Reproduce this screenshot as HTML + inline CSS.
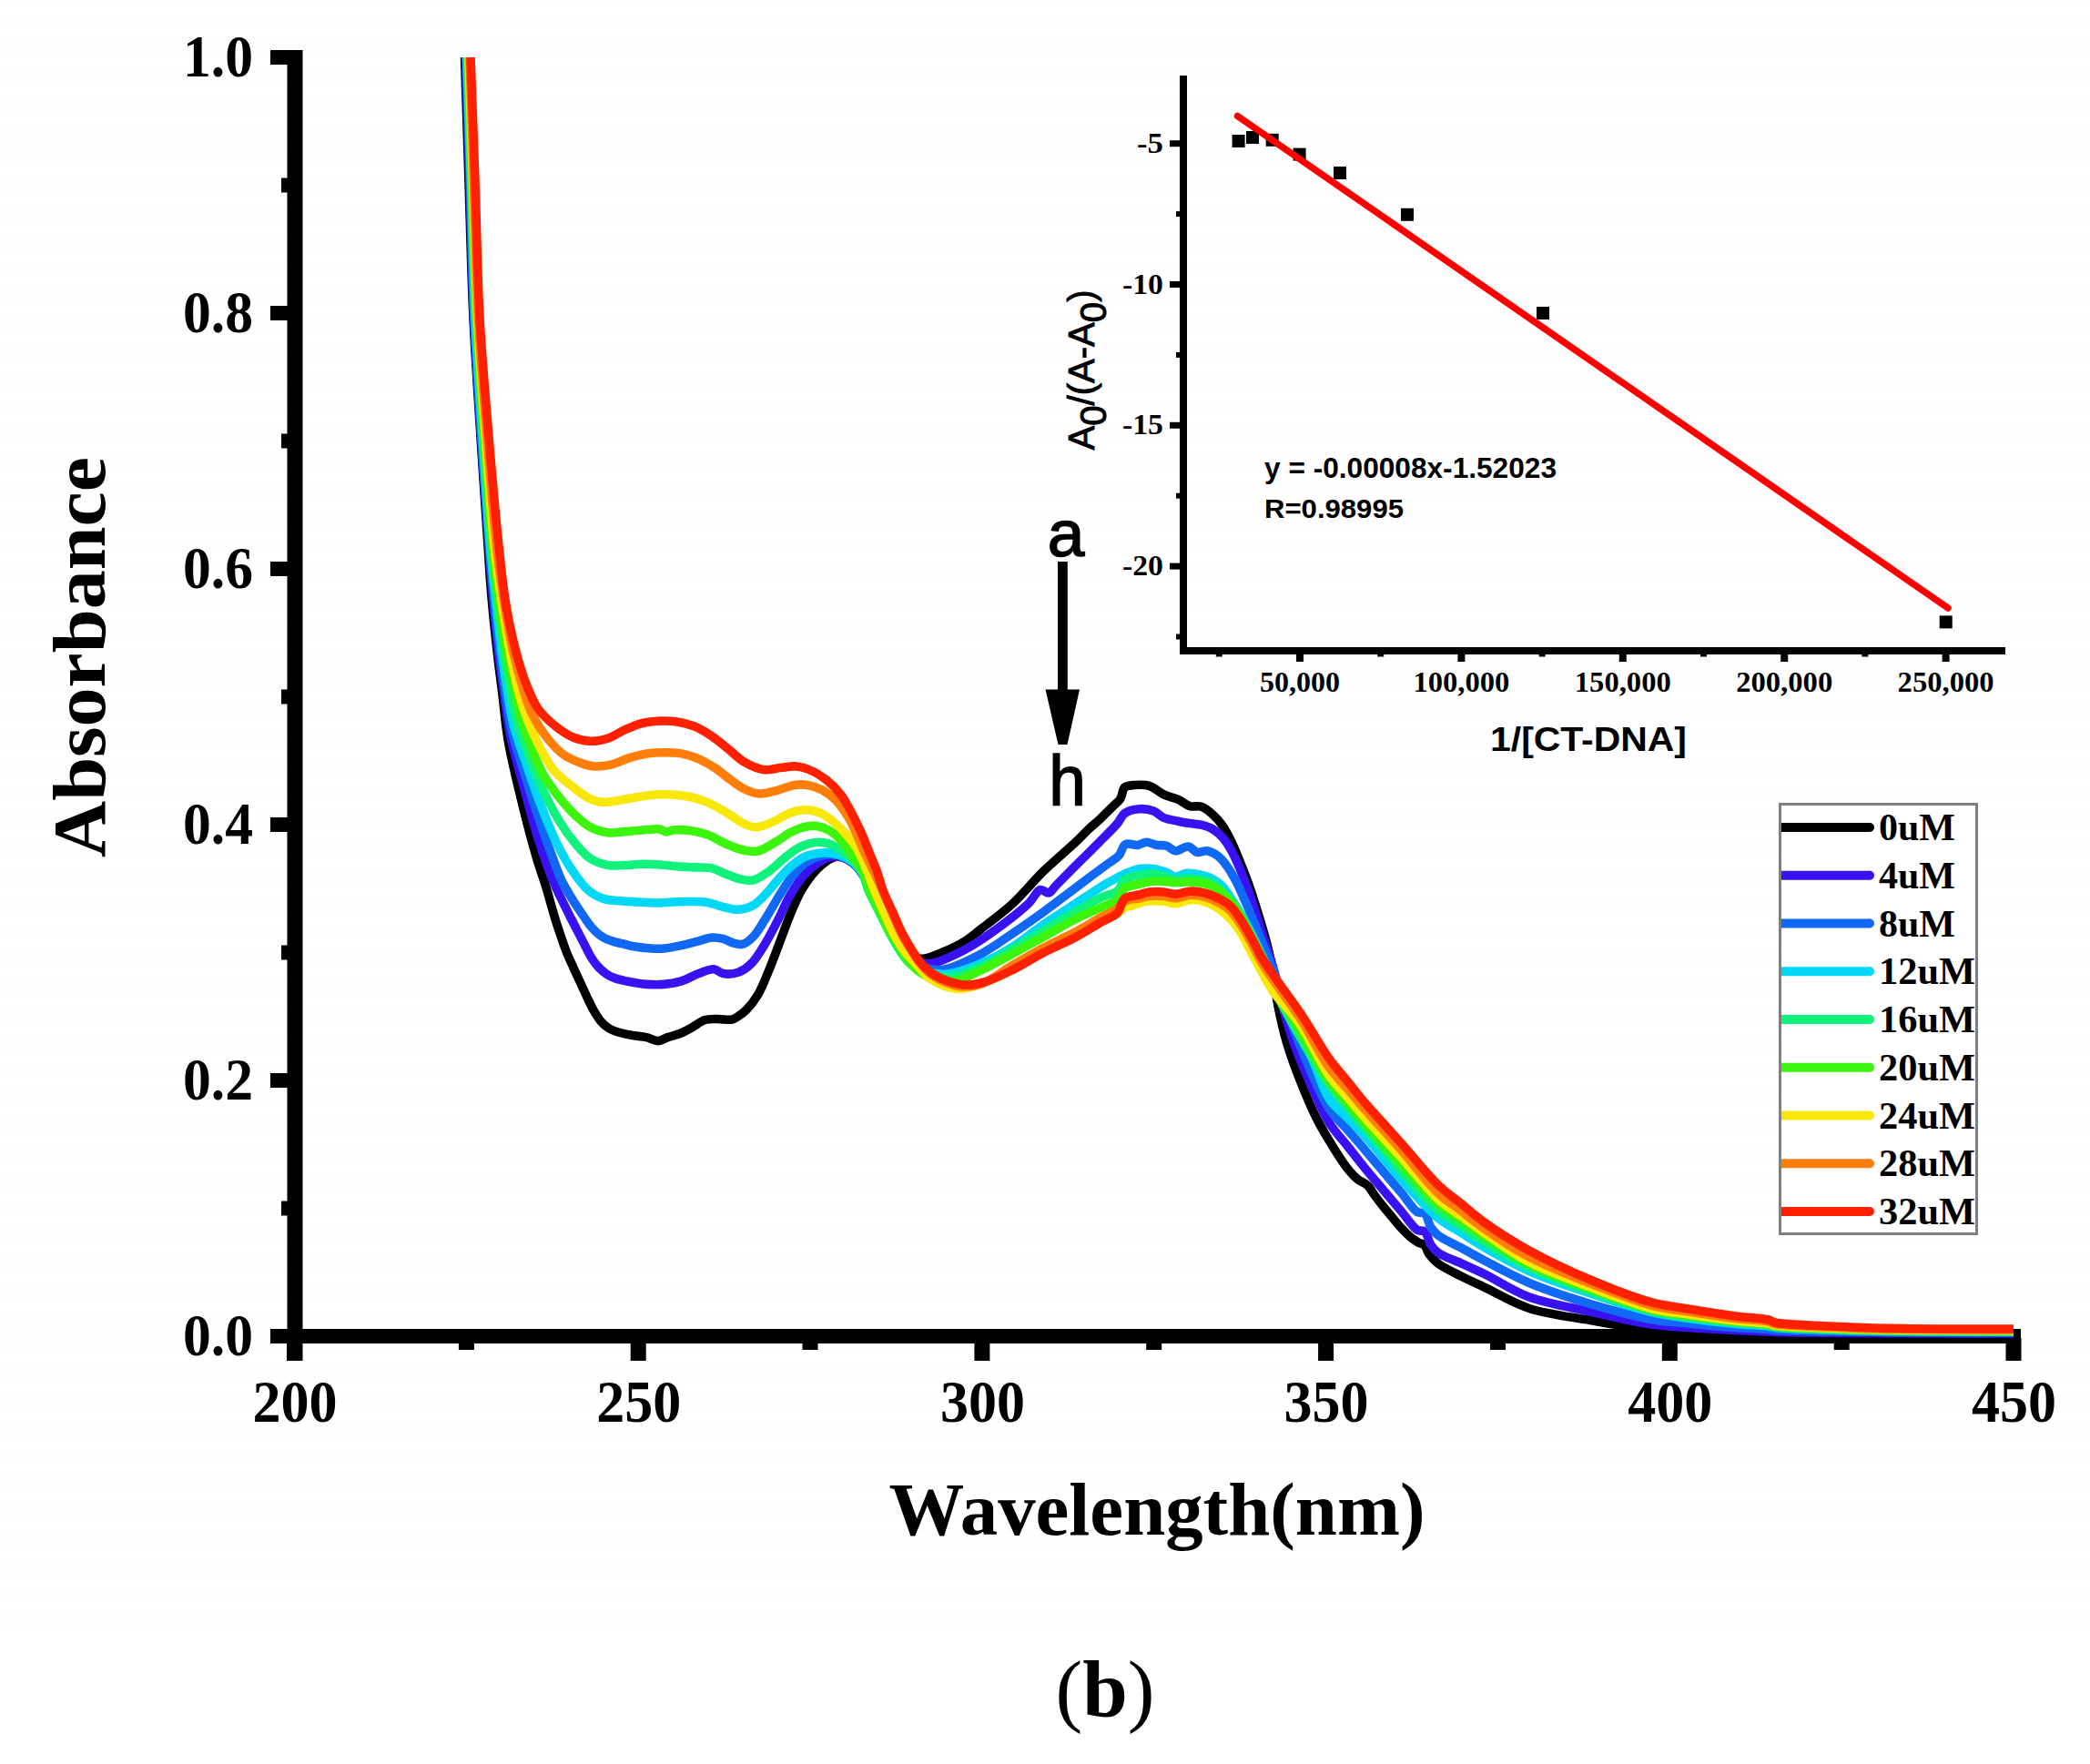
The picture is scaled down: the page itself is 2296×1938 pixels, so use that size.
<!DOCTYPE html>
<html lang="en"><head><meta charset="utf-8"><title>Absorbance spectra (b)</title>
<style>html,body{margin:0;padding:0;background:#fff}svg{display:block}text{font-family:'Liberation Serif','Times New Roman',serif;fill:#000}.sb{font-weight:bold}.sans{font-family:'Liberation Sans',Arial,sans-serif}.b{font-weight:bold}</style>
</head><body>
<svg width="2296" height="1938" viewBox="0 0 2296 1938">
<defs>
<pattern id="dots" width="8" height="32.6" patternUnits="userSpaceOnUse" patternTransform="translate(0 7.4)"><rect x="2" y="0" width="1" height="1" fill="#ececec"/><rect x="5" y="10.9" width="1" height="1" fill="#ececec"/><rect x="0" y="21.7" width="1" height="1" fill="#ececec"/></pattern>
<clipPath id="plot"><rect x="300" y="63" width="1912" height="1420"/></clipPath>
</defs>
<rect width="2296" height="1938" fill="#ffffff"/>
<rect width="2296" height="1792" fill="url(#dots)"/>
<g fill="#000">
<rect x="315.5" y="55" width="17" height="1440"/>
<rect x="297" y="1460" width="1923" height="16"/>
<rect x="297" y="1460.0" width="20" height="16"/>
<rect x="297" y="1179.0" width="20" height="16"/>
<rect x="297" y="898.0" width="20" height="16"/>
<rect x="297" y="617.0" width="20" height="16"/>
<rect x="297" y="336.0" width="20" height="16"/>
<rect x="297" y="55.0" width="20" height="16"/>
<rect x="309" y="1319.5" width="8" height="16"/>
<rect x="309" y="1038.5" width="8" height="16"/>
<rect x="309" y="757.5" width="8" height="16"/>
<rect x="309" y="476.5" width="8" height="16"/>
<rect x="309" y="195.5" width="8" height="16"/>
<rect x="315.0" y="1470" width="17" height="25"/>
<rect x="692.7" y="1470" width="17" height="25"/>
<rect x="1070.4" y="1470" width="17" height="25"/>
<rect x="1448.1" y="1470" width="17" height="25"/>
<rect x="1825.8" y="1470" width="17" height="25"/>
<rect x="2203.5" y="1470" width="17" height="25"/>
<rect x="503.9" y="1470" width="17" height="13"/>
<rect x="881.5" y="1470" width="17" height="13"/>
<rect x="1259.2" y="1470" width="17" height="13"/>
<rect x="1637.0" y="1470" width="17" height="13"/>
<rect x="2014.7" y="1470" width="17" height="13"/>
</g>
<g class="sb" font-size="65">
<text x="278" y="1488.5" text-anchor="end" textLength="77" lengthAdjust="spacingAndGlyphs">0.0</text>
<text x="278" y="1207.5" text-anchor="end" textLength="77" lengthAdjust="spacingAndGlyphs">0.2</text>
<text x="278" y="926.5" text-anchor="end" textLength="77" lengthAdjust="spacingAndGlyphs">0.4</text>
<text x="278" y="645.5" text-anchor="end" textLength="77" lengthAdjust="spacingAndGlyphs">0.6</text>
<text x="278" y="364.5" text-anchor="end" textLength="77" lengthAdjust="spacingAndGlyphs">0.8</text>
<text x="278" y="83.5" text-anchor="end" textLength="77" lengthAdjust="spacingAndGlyphs">1.0</text>
<text x="324.0" y="1562" text-anchor="middle" textLength="93" lengthAdjust="spacingAndGlyphs">200</text>
<text x="701.7" y="1562" text-anchor="middle" textLength="93" lengthAdjust="spacingAndGlyphs">250</text>
<text x="1079.4" y="1562" text-anchor="middle" textLength="93" lengthAdjust="spacingAndGlyphs">300</text>
<text x="1457.1" y="1562" text-anchor="middle" textLength="93" lengthAdjust="spacingAndGlyphs">350</text>
<text x="1834.8" y="1562" text-anchor="middle" textLength="93" lengthAdjust="spacingAndGlyphs">400</text>
<text x="2212.5" y="1562" text-anchor="middle" textLength="93" lengthAdjust="spacingAndGlyphs">450</text>
</g>
<text class="sb" font-size="82" x="1271" y="1686" text-anchor="middle" textLength="589" lengthAdjust="spacingAndGlyphs">Wavelength(nm)</text>
<text class="sb" font-size="82" transform="translate(114.5 722) rotate(-90)" text-anchor="middle" textLength="440" lengthAdjust="spacingAndGlyphs">Absorbance</text>
<g clip-path="url(#plot)" fill="none" stroke-width="9.6" stroke-linejoin="round" stroke-linecap="butt">
<path stroke="#000000" d="M510.5 63.0C512.0 108.7 513.5 153.4 515.0 200.0C516.6 248.6 517.7 300.9 520.0 349.0C522.1 394.1 525.3 437.3 528.0 480.0C530.6 520.9 533.9 568.6 536.0 600.0C537.4 620.3 538.0 632.3 539.5 650.0C541.2 670.3 543.8 695.3 546.0 715.0C547.8 731.4 549.7 744.4 551.6 760.0C553.7 776.8 555.0 794.4 558.0 812.4C561.3 831.7 566.1 851.5 571.0 872.0C576.3 894.2 583.4 921.8 589.0 941.0C593.1 955.0 597.6 967.0 600.6 977.0C602.7 984.0 603.9 989.0 605.7 995.1C607.5 1001.3 609.4 1007.8 611.3 1013.9C613.1 1019.8 615.1 1025.5 617.0 1031.0C618.8 1036.3 620.6 1041.5 622.6 1046.5C624.5 1051.3 626.5 1055.5 628.8 1060.5C631.4 1066.4 634.7 1073.4 637.5 1079.5C640.1 1085.1 642.4 1090.3 644.9 1095.5C647.4 1100.6 649.8 1105.9 652.4 1110.5C654.8 1114.6 657.1 1118.5 659.9 1121.8C662.5 1124.8 665.4 1127.5 668.6 1129.5C671.8 1131.5 675.3 1132.7 679.2 1134.0C683.5 1135.4 688.5 1136.4 693.4 1137.3C698.7 1138.3 704.9 1138.5 710.1 1139.6C714.7 1140.6 718.9 1143.7 723.0 1143.6C726.7 1143.5 729.8 1140.9 733.6 1139.6C737.8 1138.2 742.6 1137.3 747.0 1135.5C751.5 1133.7 756.0 1131.2 760.4 1128.8C764.9 1126.3 769.2 1122.3 773.8 1120.8C778.1 1119.4 782.5 1119.6 787.2 1119.5C792.5 1119.3 799.7 1121.0 803.9 1120.1C806.7 1119.5 808.3 1118.3 810.6 1116.8C813.6 1114.9 816.9 1112.6 820.0 1109.4C824.1 1105.3 828.6 1099.6 832.4 1093.3C836.9 1085.8 840.5 1076.2 844.3 1067.0C848.4 1057.2 852.3 1046.5 856.2 1036.2C860.2 1025.9 863.9 1015.0 868.0 1005.2C871.8 996.0 875.7 986.7 880.0 979.0C883.7 972.3 887.8 966.4 892.0 961.2C895.7 956.6 899.7 952.6 903.8 949.3C907.6 946.3 912.0 943.3 915.7 942.0C918.6 941.0 921.2 940.6 924.0 941.0C927.0 941.4 930.1 942.7 933.0 944.5C936.5 946.7 940.0 950.3 943.0 954.0C946.3 958.0 949.4 963.5 952.0 968.0C954.3 971.9 955.8 974.9 958.0 979.4C961.0 985.6 964.6 994.5 968.0 1002.0C971.4 1009.6 974.5 1017.9 978.2 1024.7C981.5 1030.7 985.1 1036.8 988.7 1041.0C991.4 1044.2 994.0 1046.6 997.0 1048.5C999.8 1050.3 1002.8 1051.7 1006.0 1052.5C1009.2 1053.3 1012.2 1053.6 1016.0 1053.0C1021.6 1052.2 1029.1 1048.9 1036.0 1046.0C1043.7 1042.7 1052.8 1038.5 1060.0 1034.0C1066.6 1029.9 1070.9 1025.9 1077.8 1020.6C1087.4 1013.1 1101.1 1003.2 1112.2 993.0C1124.1 982.1 1135.0 968.2 1146.7 956.8C1157.9 945.8 1172.0 934.3 1181.0 925.8C1187.1 920.0 1191.1 915.5 1195.9 911.0C1200.2 906.9 1204.3 903.8 1208.6 899.8C1213.3 895.4 1218.8 889.7 1222.9 885.6C1225.9 882.6 1228.7 880.8 1230.8 877.6C1233.1 874.1 1232.7 867.5 1235.6 865.0C1238.2 862.7 1242.6 862.8 1246.7 862.5C1251.5 862.1 1257.4 861.7 1262.5 863.3C1268.0 865.0 1273.0 870.4 1278.4 872.9C1283.6 875.3 1289.4 876.2 1294.3 878.4C1298.9 880.5 1302.6 884.3 1307.0 885.6C1311.1 886.8 1315.7 884.9 1319.7 886.3C1324.2 887.8 1328.5 891.5 1332.4 895.0C1336.5 898.6 1340.2 903.0 1343.5 907.8C1347.1 913.0 1350.0 919.0 1353.0 925.2C1356.3 932.1 1359.5 940.2 1362.5 947.5C1365.3 954.5 1367.8 960.6 1370.5 968.0C1373.6 976.7 1376.9 986.9 1380.0 996.7C1383.2 1007.0 1386.7 1018.3 1389.5 1028.4C1392.0 1037.6 1394.2 1046.2 1396.0 1055.0C1397.7 1063.4 1398.7 1071.7 1400.0 1080.0C1401.3 1088.3 1402.2 1095.7 1404.0 1105.0C1406.3 1116.8 1409.5 1131.4 1413.4 1144.8C1417.6 1159.1 1423.1 1174.1 1428.7 1188.2C1434.2 1202.1 1440.2 1216.5 1446.5 1229.0C1452.2 1240.2 1458.5 1250.5 1464.4 1260.0C1469.6 1268.3 1474.6 1276.6 1479.7 1283.0C1483.8 1288.2 1487.9 1292.7 1492.0 1296.0C1495.3 1298.7 1499.1 1299.3 1502.0 1302.0C1505.2 1304.9 1507.2 1309.2 1510.0 1313.0C1513.1 1317.2 1516.6 1321.8 1520.0 1326.0C1523.3 1330.1 1526.7 1334.0 1530.0 1338.0C1533.3 1342.0 1536.6 1346.1 1540.0 1349.8C1543.3 1353.3 1546.7 1356.8 1550.0 1359.5C1552.7 1361.7 1555.4 1363.5 1558.0 1365.0C1560.3 1366.3 1563.1 1366.2 1565.0 1368.0C1567.3 1370.2 1567.7 1374.8 1570.0 1378.0C1572.6 1381.6 1575.6 1384.9 1580.0 1388.3C1586.2 1393.0 1596.6 1397.7 1605.0 1402.0C1613.3 1406.2 1620.2 1409.3 1630.0 1413.9C1643.8 1420.4 1661.7 1431.5 1680.0 1437.5C1700.3 1444.2 1724.6 1446.6 1747.0 1450.5C1769.3 1454.4 1794.3 1459.0 1814.0 1461.0C1829.3 1462.6 1840.5 1462.4 1855.0 1463.0C1871.2 1463.7 1891.0 1464.5 1906.7 1465.0C1919.9 1465.4 1935.6 1465.8 1943.0 1466.0C1946.2 1466.1 1946.5 1466.1 1950.0 1466.2C1960.2 1466.4 1988.7 1466.5 2010.0 1466.6C2034.2 1466.7 2058.7 1466.9 2087.6 1467.0C2124.2 1467.1 2170.5 1467.0 2212.0 1467.0"/>
<path stroke="#3a12f2" d="M511.5 63.0C513.0 108.7 514.5 153.4 516.0 200.0C517.5 248.6 518.3 300.9 520.5 349.0C522.6 394.1 525.7 437.3 528.5 480.0C531.2 520.9 534.6 568.6 537.0 600.0C538.5 620.3 539.4 632.3 541.0 650.0C542.8 670.3 545.2 695.3 547.5 715.0C549.4 731.4 551.4 744.8 553.5 760.0C555.7 775.7 557.2 791.3 560.5 807.6C564.1 825.3 569.8 843.8 574.8 862.4C580.1 881.9 585.6 903.6 591.4 922.0C596.5 938.3 602.5 955.3 607.4 967.4C610.8 975.8 613.6 981.2 617.0 988.3C620.6 995.7 624.5 1003.5 628.3 1011.0C632.1 1018.4 636.0 1026.0 639.7 1033.1C643.2 1039.8 646.5 1047.2 649.9 1052.5C652.4 1056.5 654.6 1059.4 657.4 1062.4C660.2 1065.4 663.5 1068.4 666.8 1070.5C669.8 1072.4 672.7 1073.7 676.1 1074.9C679.9 1076.3 683.8 1077.0 688.6 1078.0C694.9 1079.3 703.4 1080.9 710.5 1081.4C717.0 1081.9 723.2 1082.0 729.5 1081.4C735.9 1080.8 742.4 1079.8 748.6 1077.9C755.1 1075.9 761.4 1071.7 767.6 1069.5C773.3 1067.5 779.5 1064.4 784.3 1064.8C788.1 1065.1 790.4 1068.8 794.3 1069.5C799.1 1070.4 805.9 1070.1 811.0 1068.3C816.2 1066.5 820.8 1063.1 825.2 1058.8C830.5 1053.7 834.9 1045.9 839.5 1038.6C844.5 1030.6 849.1 1021.4 853.8 1012.4C858.6 1003.1 862.9 992.5 868.0 983.8C872.5 976.0 877.2 968.4 882.4 962.4C886.9 957.2 891.7 952.8 896.7 949.3C901.3 946.1 906.6 943.3 911.0 942.0C914.4 941.0 917.3 940.7 920.5 941.0C924.0 941.4 927.6 942.7 931.0 944.5C934.8 946.5 938.7 949.5 942.0 953.0C945.6 956.9 948.8 962.4 951.5 967.0C954.0 971.2 955.5 974.6 957.8 979.4C960.8 985.8 964.4 994.5 967.8 1002.0C971.2 1009.6 974.3 1017.6 978.0 1024.7C981.4 1031.2 985.2 1038.1 989.0 1043.0C991.9 1046.7 994.6 1049.7 998.0 1052.0C1001.3 1054.3 1005.0 1055.9 1009.0 1057.0C1013.2 1058.2 1017.1 1059.3 1022.7 1058.5C1032.3 1057.1 1048.6 1049.3 1060.6 1043.0C1072.7 1036.7 1083.7 1028.8 1095.0 1020.6C1106.7 1012.1 1120.9 1001.2 1129.5 993.0C1135.4 987.4 1138.6 978.6 1143.0 977.5C1146.0 976.8 1149.2 981.6 1152.0 981.0C1155.1 980.3 1157.0 975.8 1160.5 972.3C1165.8 966.9 1173.8 959.0 1181.0 951.7C1189.1 943.6 1198.9 934.0 1207.0 925.8C1214.3 918.4 1222.5 910.7 1227.6 904.6C1231.1 900.5 1231.9 896.1 1235.6 893.5C1239.6 890.6 1246.1 889.1 1251.4 888.7C1256.6 888.3 1262.6 889.2 1267.3 891.0C1271.5 892.6 1274.2 896.5 1278.4 898.3C1283.1 900.3 1289.3 901.1 1294.3 902.2C1298.8 903.2 1302.8 903.9 1307.0 904.6C1311.2 905.3 1315.5 905.2 1319.7 906.2C1324.0 907.3 1328.5 908.7 1332.4 911.0C1336.5 913.4 1340.2 916.7 1343.5 920.5C1347.1 924.6 1350.0 929.5 1353.0 934.8C1356.4 940.9 1359.6 948.5 1362.5 955.4C1365.4 962.2 1367.8 968.5 1370.5 976.0C1373.6 984.7 1376.9 994.9 1380.0 1004.6C1383.2 1014.5 1386.3 1024.8 1389.5 1034.8C1392.6 1044.6 1396.3 1054.7 1399.0 1064.0C1401.4 1072.3 1402.9 1079.7 1405.0 1088.0C1407.2 1097.0 1409.4 1106.6 1412.0 1116.0C1414.7 1125.6 1417.4 1134.6 1421.0 1144.8C1425.2 1156.7 1430.4 1169.5 1436.3 1183.0C1443.1 1198.7 1451.6 1219.7 1460.0 1233.3C1466.4 1243.6 1473.3 1250.2 1480.0 1258.7C1486.7 1267.1 1493.3 1275.7 1500.0 1284.0C1506.6 1292.1 1513.3 1299.9 1520.0 1307.8C1526.7 1315.7 1533.6 1324.0 1540.0 1331.5C1545.9 1338.4 1551.9 1348.4 1557.0 1351.4C1559.8 1353.0 1562.8 1351.2 1565.0 1352.9C1568.2 1355.4 1569.2 1363.8 1572.0 1367.9C1574.3 1371.4 1576.2 1373.7 1580.0 1376.4C1585.8 1380.5 1596.7 1384.0 1605.0 1387.8C1613.3 1391.6 1620.3 1394.5 1630.0 1399.2C1643.9 1405.9 1661.7 1418.2 1680.0 1425.0C1700.3 1432.5 1724.6 1436.0 1747.0 1441.0C1769.3 1446.0 1794.3 1452.1 1814.0 1455.0C1829.3 1457.2 1840.5 1457.5 1855.0 1458.5C1871.2 1459.7 1891.0 1460.7 1906.7 1461.5C1919.9 1462.2 1935.6 1462.6 1943.0 1463.0C1946.2 1463.2 1946.5 1463.4 1950.0 1463.5C1960.2 1463.9 1988.7 1464.1 2010.0 1464.3C2034.2 1464.5 2058.7 1464.7 2087.6 1464.8C2124.2 1464.9 2170.5 1464.9 2212.0 1465.0"/>
<path stroke="#1068f4" d="M512.0 63.0C513.5 108.7 515.0 153.4 516.5 200.0C518.0 248.6 518.8 300.9 521.0 349.0C523.1 394.1 526.2 437.3 529.0 480.0C531.7 520.9 535.0 568.6 537.5 600.0C539.1 620.3 540.2 632.2 542.0 650.0C544.0 670.3 546.6 695.3 549.0 715.0C551.0 731.4 552.8 745.4 555.0 760.0C557.1 773.9 558.6 786.7 561.7 800.5C565.0 815.3 570.1 830.1 574.8 845.7C579.9 862.5 585.5 880.6 591.4 898.0C597.3 915.4 605.2 937.3 610.0 950.0C612.8 957.4 614.2 961.5 617.0 967.4C620.1 973.9 624.4 980.8 628.3 987.2C632.1 993.4 636.1 999.4 640.0 1005.0C643.7 1010.3 647.0 1015.7 651.0 1020.0C654.6 1023.8 658.4 1027.3 662.4 1029.7C666.0 1031.9 669.9 1033.1 673.7 1034.3C677.4 1035.5 681.2 1036.1 685.0 1037.0C688.7 1037.9 691.9 1039.0 696.2 1039.8C701.7 1040.8 709.3 1041.7 715.2 1042.0C720.3 1042.3 724.4 1042.4 729.5 1042.0C735.4 1041.5 742.3 1040.0 748.6 1038.6C755.0 1037.2 761.7 1035.3 767.6 1033.8C772.7 1032.5 777.3 1030.3 781.9 1030.0C786.2 1029.7 790.3 1030.4 794.3 1031.4C798.3 1032.4 802.2 1035.2 806.0 1036.2C809.3 1037.1 812.5 1038.2 815.7 1037.4C819.7 1036.4 823.8 1032.9 827.6 1029.0C832.7 1023.8 837.3 1015.0 842.0 1007.6C846.9 999.9 851.4 991.5 856.2 983.8C860.9 976.4 865.4 968.6 870.5 962.4C875.0 956.9 879.7 951.7 884.8 948.0C889.3 944.8 894.1 942.6 899.0 941.0C903.7 939.5 908.6 938.4 913.3 938.6C917.9 938.8 922.6 940.0 927.0 942.0C931.8 944.2 937.0 947.6 941.0 951.5C945.1 955.5 948.2 961.2 951.0 966.0C953.6 970.5 955.1 974.3 957.5 979.4C960.5 985.9 964.2 994.5 967.6 1002.0C971.0 1009.6 974.1 1017.5 977.8 1024.7C981.3 1031.5 985.1 1039.0 988.9 1044.0C991.7 1047.8 994.3 1050.4 997.5 1053.0C1000.8 1055.7 1004.5 1058.1 1008.5 1060.0C1012.7 1062.0 1017.4 1063.6 1022.0 1064.5C1026.7 1065.4 1030.6 1066.3 1036.5 1065.3C1046.9 1063.5 1064.9 1054.8 1077.8 1048.0C1090.1 1041.5 1100.8 1033.4 1112.2 1025.7C1123.8 1017.9 1135.3 1009.9 1146.7 1001.6C1158.2 993.2 1169.5 984.4 1181.0 975.8C1192.5 967.2 1206.7 956.7 1215.6 950.0C1221.2 945.8 1225.9 943.6 1229.4 939.6C1232.6 936.0 1232.9 929.5 1236.3 927.6C1239.7 925.7 1245.9 929.0 1250.0 928.4C1253.5 927.9 1256.1 925.3 1259.4 925.2C1262.9 925.1 1266.8 927.7 1270.5 928.4C1274.2 929.1 1278.2 928.1 1281.6 929.2C1285.0 930.3 1287.4 934.4 1291.0 934.8C1295.2 935.3 1301.2 929.5 1305.4 930.0C1309.1 930.5 1311.5 935.5 1315.0 936.3C1318.4 937.1 1322.3 934.2 1326.0 934.8C1330.2 935.5 1335.0 938.1 1338.7 941.0C1342.5 943.9 1345.3 948.0 1348.3 952.2C1351.7 956.9 1354.8 962.3 1357.8 968.0C1361.2 974.3 1364.2 981.6 1367.3 988.7C1370.5 996.0 1373.7 1003.4 1376.8 1011.0C1380.0 1018.8 1383.0 1026.5 1386.3 1034.8C1390.0 1044.0 1394.4 1054.2 1398.0 1064.0C1401.6 1073.6 1404.7 1083.3 1408.0 1093.0C1411.3 1102.7 1414.5 1112.4 1418.0 1122.0C1421.4 1131.4 1424.0 1138.7 1428.7 1150.0C1436.2 1167.8 1449.6 1201.6 1460.0 1217.8C1466.7 1228.1 1473.3 1233.2 1480.0 1240.9C1486.7 1248.6 1493.4 1256.2 1500.0 1264.0C1506.7 1271.8 1513.3 1279.7 1520.0 1287.6C1526.7 1295.5 1533.6 1303.6 1540.0 1311.2C1545.9 1318.2 1551.9 1328.5 1557.0 1331.5C1559.8 1333.2 1562.8 1331.2 1565.0 1333.0C1568.2 1335.5 1569.2 1344.3 1572.0 1348.5C1574.3 1352.0 1576.3 1354.3 1580.0 1357.2C1585.8 1361.7 1596.7 1366.3 1605.0 1370.8C1613.3 1375.4 1620.2 1379.4 1630.0 1384.5C1643.8 1391.7 1661.8 1401.9 1680.0 1409.5C1700.4 1418.1 1724.5 1425.8 1747.0 1432.5C1769.2 1439.1 1794.3 1445.9 1814.0 1449.5C1829.2 1452.3 1840.5 1452.6 1855.0 1454.0C1871.2 1455.6 1891.0 1457.4 1906.7 1458.5C1919.9 1459.4 1935.6 1459.8 1943.0 1460.5C1946.3 1460.8 1946.5 1461.2 1950.0 1461.5C1960.2 1462.3 1988.7 1462.5 2010.0 1462.8C2034.2 1463.2 2058.7 1463.4 2087.6 1463.6C2124.2 1463.8 2170.5 1463.9 2212.0 1464.0"/>
<path stroke="#00d8f6" d="M513.0 63.0C514.5 108.7 516.0 153.4 517.5 200.0C519.0 248.6 519.8 300.9 522.0 349.0C524.1 394.1 527.2 437.3 530.0 480.0C532.7 520.9 535.8 568.6 538.5 600.0C540.2 620.3 541.6 632.2 543.5 650.0C545.7 670.3 548.4 695.3 551.0 715.0C553.1 731.4 555.2 745.9 557.5 760.0C559.6 772.6 560.9 783.5 564.0 795.7C567.3 808.8 572.3 822.0 577.0 836.0C582.2 851.3 587.8 868.2 593.8 883.8C599.7 899.2 606.3 915.8 612.9 929.0C618.3 939.8 623.6 949.1 629.5 957.6C634.7 965.2 639.9 972.8 646.0 977.9C651.2 982.3 656.9 985.4 662.9 987.4C668.9 989.4 675.6 989.2 682.0 989.8C688.3 990.4 694.7 990.6 701.0 991.0C707.3 991.4 713.7 992.0 720.0 992.0C726.3 992.0 732.7 991.3 739.0 991.0C745.3 990.8 751.7 990.4 758.0 990.5C764.3 990.6 770.7 990.4 777.0 991.4C783.6 992.5 790.6 995.7 796.7 997.0C801.8 998.1 806.1 999.6 811.0 999.3C816.4 999.0 822.6 997.3 827.6 994.5C833.0 991.5 837.4 986.2 842.0 981.4C846.9 976.3 851.4 970.0 856.2 964.8C860.9 959.8 865.5 954.6 870.5 950.5C875.1 946.7 879.8 943.2 884.8 941.0C889.4 939.0 894.2 938.0 899.0 937.4C903.7 936.8 908.6 936.7 913.3 937.4C918.1 938.1 923.1 939.4 927.6 941.5C932.3 943.7 937.2 946.7 941.0 950.5C945.0 954.5 948.2 960.0 951.0 965.0C953.6 969.7 954.9 974.1 957.3 979.4C960.3 986.1 964.0 994.5 967.4 1002.0C970.8 1009.6 973.9 1017.5 977.6 1024.7C981.1 1031.5 985.0 1038.6 988.7 1044.0C991.6 1048.3 994.2 1051.8 997.5 1055.0C1000.8 1058.1 1004.4 1060.7 1008.5 1063.0C1013.1 1065.5 1018.4 1067.9 1024.0 1069.0C1030.0 1070.2 1036.0 1070.7 1043.3 1069.7C1053.2 1068.3 1066.5 1063.3 1077.8 1058.5C1089.5 1053.6 1101.0 1047.3 1112.2 1040.3C1124.0 1033.0 1135.1 1023.4 1146.7 1015.4C1158.1 1007.6 1169.5 1000.5 1181.0 993.0C1192.5 985.5 1206.9 975.7 1215.6 970.6C1220.7 967.6 1224.4 965.9 1228.0 964.0C1230.8 962.5 1232.6 961.5 1235.6 960.2C1239.9 958.4 1246.0 955.5 1251.4 954.6C1256.6 953.7 1262.2 953.9 1267.3 954.6C1272.2 955.3 1277.4 957.0 1281.6 958.6C1285.1 960.0 1287.6 963.0 1291.0 963.3C1294.9 963.6 1299.4 959.8 1303.8 959.4C1308.4 959.0 1313.4 960.0 1318.0 961.0C1322.4 961.9 1326.8 963.0 1330.8 965.0C1334.8 967.0 1338.7 969.6 1342.0 972.9C1345.6 976.4 1348.1 980.8 1351.4 985.6C1355.6 991.7 1360.5 999.2 1365.0 1007.0C1370.1 1015.8 1375.1 1026.0 1380.0 1036.0C1385.1 1046.4 1390.0 1057.3 1395.0 1068.0C1400.0 1078.7 1404.9 1089.5 1410.0 1100.0C1414.9 1110.2 1419.9 1119.8 1425.0 1130.0C1430.3 1140.7 1436.0 1150.9 1441.4 1162.7C1447.6 1176.3 1452.4 1195.5 1460.0 1207.0C1465.9 1215.9 1473.3 1220.9 1480.0 1227.8C1486.7 1234.7 1493.4 1241.3 1500.0 1248.6C1506.8 1256.1 1513.3 1264.4 1520.0 1272.3C1526.7 1280.2 1532.0 1287.2 1540.0 1296.1C1550.9 1308.3 1567.6 1328.0 1580.0 1338.2C1588.8 1345.5 1596.7 1348.9 1605.0 1354.2C1613.3 1359.5 1620.1 1364.4 1630.0 1370.1C1643.7 1378.0 1661.8 1388.4 1680.0 1396.5C1700.4 1405.6 1724.6 1413.5 1747.0 1421.0C1769.2 1428.5 1794.3 1436.8 1814.0 1441.5C1829.2 1445.1 1840.5 1446.4 1855.0 1448.5C1871.2 1450.8 1891.0 1453.0 1906.7 1454.5C1919.9 1455.7 1935.6 1455.9 1943.0 1457.0C1946.3 1457.5 1946.5 1458.1 1950.0 1458.6C1960.2 1460.0 1988.7 1460.5 2010.0 1461.2C2034.2 1462.0 2058.7 1462.4 2087.6 1462.8C2124.2 1463.3 2170.5 1463.1 2212.0 1463.3"/>
<path stroke="#10f27c" d="M513.5 63.0C515.0 108.7 516.5 153.4 518.0 200.0C519.6 248.6 520.7 300.9 523.0 349.0C525.1 394.1 528.2 437.3 531.0 480.0C533.7 520.9 536.7 568.6 539.5 600.0C541.3 620.3 542.9 632.3 545.0 650.0C547.4 670.3 550.6 695.3 553.5 715.0C555.9 731.4 558.4 746.4 561.0 760.0C563.1 771.3 564.7 780.4 567.6 791.0C570.7 802.6 575.0 814.5 579.5 826.7C584.4 839.8 590.0 854.1 596.0 867.0C601.8 879.5 608.5 892.3 615.0 902.9C620.5 911.9 626.1 919.7 632.0 926.7C637.3 933.0 642.4 939.3 648.6 943.3C654.4 947.0 661.1 949.3 667.6 950.5C673.9 951.6 680.3 950.7 686.7 950.5C693.0 950.3 699.4 949.4 705.7 949.3C712.1 949.2 718.4 949.6 724.8 950.0C731.1 950.4 737.5 951.2 743.8 951.7C750.2 952.2 756.5 952.5 762.9 952.9C769.2 953.3 776.1 952.6 781.9 953.9C787.2 955.1 791.6 958.0 796.7 959.9C802.1 961.9 807.9 964.6 813.3 965.8C818.2 966.9 822.8 968.0 827.6 967.0C833.1 965.8 838.9 961.4 844.3 957.6C850.1 953.6 855.6 947.6 861.0 943.3C865.9 939.4 870.3 935.4 875.2 932.6C879.8 930.0 884.6 927.9 889.5 926.7C894.2 925.6 899.1 924.9 903.8 925.5C908.6 926.1 913.4 927.7 918.0 930.2C923.3 933.1 928.8 938.0 933.5 942.5C938.1 946.8 942.6 950.9 946.0 956.5C949.9 962.9 951.2 971.9 954.5 979.4C957.8 987.0 962.0 994.5 965.8 1002.0C969.6 1009.6 973.4 1017.5 977.3 1024.7C980.9 1031.4 984.7 1038.3 988.4 1044.0C991.6 1048.9 994.3 1053.3 998.0 1057.0C1001.6 1060.6 1005.5 1063.5 1010.0 1066.0C1015.0 1068.8 1021.0 1071.3 1027.0 1072.5C1033.3 1073.7 1039.7 1074.2 1047.0 1073.0C1056.3 1071.5 1067.4 1066.7 1077.8 1062.0C1089.2 1056.9 1100.8 1049.5 1112.2 1043.0C1123.7 1036.4 1135.2 1029.3 1146.7 1022.5C1158.2 1015.7 1169.8 1008.4 1181.0 1002.0C1191.5 996.0 1203.0 989.0 1211.7 985.0C1217.7 982.2 1223.6 982.3 1227.6 979.0C1231.4 975.9 1231.8 969.4 1235.6 966.5C1239.6 963.5 1245.9 962.8 1251.4 961.7C1257.1 960.6 1262.9 959.4 1269.0 960.0C1276.0 960.7 1284.2 965.8 1291.0 966.5C1296.7 967.1 1301.2 964.7 1307.0 965.0C1314.2 965.4 1324.2 966.4 1330.8 969.7C1336.6 972.6 1340.7 977.6 1345.0 982.4C1349.5 987.4 1353.2 992.9 1357.0 999.0C1361.2 1005.7 1365.1 1013.5 1369.0 1021.0C1373.1 1028.8 1377.1 1036.7 1381.0 1045.0C1385.1 1053.7 1388.8 1062.9 1393.0 1072.0C1397.4 1081.5 1402.0 1091.4 1407.0 1101.0C1412.0 1110.7 1416.4 1118.6 1423.0 1130.0C1432.7 1146.9 1449.0 1176.5 1460.0 1192.0C1467.2 1202.2 1473.3 1208.0 1480.0 1216.0C1486.7 1224.0 1493.3 1232.1 1500.0 1240.0C1506.6 1247.9 1513.3 1255.7 1520.0 1263.5C1526.7 1271.3 1532.1 1278.1 1540.0 1287.0C1550.9 1299.3 1567.7 1319.4 1580.0 1330.0C1588.8 1337.6 1596.7 1341.3 1605.0 1347.0C1613.3 1352.7 1620.1 1357.8 1630.0 1364.0C1643.7 1372.5 1661.8 1383.8 1680.0 1392.5C1700.4 1402.2 1724.5 1410.5 1747.0 1418.5C1769.2 1426.4 1794.2 1435.2 1814.0 1440.0C1829.2 1443.7 1840.5 1444.9 1855.0 1447.0C1871.2 1449.3 1891.0 1451.4 1906.7 1453.0C1919.9 1454.3 1935.6 1454.8 1943.0 1456.0C1946.3 1456.6 1946.5 1457.3 1950.0 1457.8C1960.1 1459.3 1988.7 1459.8 2010.0 1460.5C2034.2 1461.3 2058.7 1461.8 2087.6 1462.2C2124.2 1462.7 2170.5 1462.6 2212.0 1462.8"/>
<path stroke="#3cf40c" d="M514.0 63.0C515.5 108.7 517.0 153.4 518.5 200.0C520.1 248.6 521.1 300.9 523.5 349.0C525.7 394.1 529.0 437.3 532.0 480.0C534.9 520.9 537.9 568.6 541.0 600.0C543.0 620.3 544.6 632.3 547.0 650.0C549.7 670.3 553.0 695.4 556.5 715.0C559.4 731.4 563.2 747.4 565.9 760.0C567.8 769.2 568.8 775.6 571.0 783.8C573.5 793.0 576.7 802.3 580.5 812.4C585.0 824.3 590.4 839.3 596.6 850.5C602.1 860.4 608.8 868.8 615.0 876.7C620.6 883.7 626.1 890.2 632.0 895.7C637.4 900.7 642.6 905.6 648.6 908.8C654.5 911.9 661.2 914.0 667.6 914.8C673.9 915.6 680.3 914.1 686.7 913.6C693.0 913.1 699.4 912.4 705.7 912.0C712.1 911.6 720.0 910.2 724.8 911.0C727.8 911.5 729.6 913.9 732.0 914.0C734.3 914.1 736.1 912.4 739.0 912.0C743.7 911.4 751.7 911.6 758.0 912.4C764.4 913.2 770.6 914.7 777.0 917.0C784.2 919.6 792.1 924.8 799.0 927.7C804.9 930.2 810.1 932.5 815.7 933.7C821.2 934.9 826.8 936.1 832.4 935.0C838.7 933.8 845.4 928.9 851.4 925.5C857.2 922.2 862.5 917.7 868.0 914.8C872.9 912.2 877.5 910.0 882.4 908.8C887.1 907.7 892.0 907.0 896.7 907.6C901.5 908.2 906.5 909.9 911.0 912.4C916.0 915.2 921.1 919.7 925.2 924.3C929.4 928.9 932.3 934.7 936.0 940.0C939.9 945.5 944.7 950.4 948.0 956.7C951.5 963.5 952.9 971.9 956.0 979.4C959.2 987.0 963.3 994.5 967.0 1002.0C970.7 1009.6 974.0 1017.5 978.0 1024.7C981.8 1031.5 986.2 1038.1 990.1 1044.0C993.5 1049.1 996.3 1053.8 1000.0 1058.0C1003.6 1062.1 1007.4 1066.0 1012.0 1069.0C1016.7 1072.1 1022.2 1074.5 1028.0 1076.0C1034.2 1077.6 1040.8 1079.0 1048.0 1078.0C1057.1 1076.7 1067.6 1070.7 1077.8 1066.0C1089.0 1060.8 1100.8 1054.1 1112.2 1048.0C1123.7 1041.8 1135.2 1035.3 1146.7 1029.0C1158.2 1022.7 1169.8 1015.7 1181.0 1010.0C1191.4 1004.8 1203.1 999.9 1211.7 996.0C1217.9 993.2 1223.6 992.2 1227.6 988.7C1231.3 985.4 1231.8 978.9 1235.6 976.0C1239.6 973.0 1246.0 972.6 1251.4 971.3C1257.1 969.9 1262.8 968.3 1269.0 968.0C1275.9 967.6 1284.2 969.6 1291.0 969.7C1296.8 969.8 1301.4 968.7 1307.0 968.9C1313.1 969.1 1320.4 969.6 1326.0 971.3C1330.8 972.7 1334.6 974.8 1338.7 977.6C1343.1 980.6 1347.5 984.6 1351.4 989.0C1355.5 993.7 1358.9 999.1 1362.5 1005.0C1366.5 1011.6 1370.2 1019.5 1374.0 1027.0C1378.0 1034.8 1382.1 1042.7 1386.0 1051.0C1390.1 1059.7 1393.8 1069.0 1398.0 1078.0C1402.2 1087.0 1406.3 1096.6 1411.0 1105.0C1415.4 1112.8 1419.4 1117.8 1425.0 1127.0C1434.2 1142.0 1449.4 1171.8 1460.0 1187.0C1467.1 1197.2 1473.3 1203.0 1480.0 1211.0C1486.7 1219.0 1493.3 1227.2 1500.0 1235.0C1506.6 1242.6 1513.3 1249.8 1520.0 1257.2C1526.7 1264.6 1532.2 1270.8 1540.0 1279.4C1551.0 1291.5 1567.7 1312.1 1580.0 1322.9C1588.9 1330.7 1596.7 1334.7 1605.0 1340.6C1613.3 1346.5 1620.1 1351.7 1630.0 1358.2C1643.7 1367.2 1661.7 1379.8 1680.0 1389.0C1700.3 1399.3 1724.6 1407.6 1747.0 1416.0C1769.2 1424.3 1794.2 1434.1 1814.0 1439.0C1829.2 1442.8 1840.5 1443.4 1855.0 1445.5C1871.2 1447.8 1891.0 1450.4 1906.7 1452.0C1919.9 1453.4 1935.7 1453.7 1943.0 1455.0C1946.3 1455.6 1946.5 1456.4 1950.0 1457.0C1960.1 1458.7 1988.7 1459.1 2010.0 1459.8C2034.2 1460.6 2058.7 1461.2 2087.6 1461.6C2124.2 1462.1 2170.5 1462.0 2212.0 1462.2"/>
<path stroke="#f8e80a" d="M515.0 63.0C516.5 108.7 518.0 153.4 519.5 200.0C521.1 248.6 522.0 301.0 524.5 349.0C526.8 394.1 530.3 437.3 533.5 480.0C536.5 520.9 539.7 568.6 543.0 600.0C545.1 620.3 546.9 632.3 549.5 650.0C552.5 670.3 556.3 695.4 560.0 715.0C563.1 731.4 566.3 747.4 569.6 760.0C572.0 769.3 574.0 775.6 577.0 783.8C580.3 793.0 584.2 802.7 588.9 812.4C594.1 823.1 600.2 836.2 607.5 845.3C614.0 853.3 622.3 859.1 629.5 864.8C635.9 869.8 642.4 875.1 648.6 877.9C653.5 880.1 657.8 881.1 662.9 881.4C668.8 881.7 675.7 880.0 682.0 879.0C688.4 878.0 694.7 876.5 701.0 875.5C707.3 874.5 713.7 873.4 720.0 873.0C726.3 872.6 732.7 872.6 739.0 873.0C745.3 873.4 751.7 874.1 758.0 875.5C764.4 876.9 770.6 878.7 777.0 881.4C784.2 884.4 792.0 889.2 799.0 893.3C805.6 897.2 812.2 902.6 818.0 905.2C822.3 907.2 825.5 908.8 830.0 908.8C835.6 908.8 842.8 905.4 849.0 902.9C855.4 900.3 861.7 895.5 868.0 893.3C873.6 891.3 879.2 889.8 884.8 889.8C890.4 889.8 896.3 891.1 901.4 893.3C906.6 895.5 911.1 899.1 915.7 902.9C920.7 907.0 925.6 911.9 930.0 917.0C934.5 922.2 938.9 927.7 942.5 934.0C946.4 940.8 949.3 949.1 952.4 956.7C955.5 964.2 958.1 971.9 961.2 979.4C964.3 987.0 967.7 994.5 971.0 1002.0C974.4 1009.6 977.6 1017.5 981.3 1024.7C984.9 1031.5 988.5 1038.1 992.8 1044.0C997.0 1049.8 1002.3 1054.9 1007.0 1060.0C1011.4 1064.8 1015.0 1070.2 1020.0 1074.0C1025.0 1077.8 1031.1 1080.9 1037.0 1083.0C1042.8 1085.0 1048.6 1086.6 1055.0 1086.5C1062.2 1086.3 1069.7 1083.9 1078.0 1081.0C1088.4 1077.4 1100.9 1070.8 1112.2 1065.0C1123.8 1059.0 1135.1 1051.6 1146.7 1045.5C1158.1 1039.6 1170.0 1034.8 1181.0 1029.0C1191.6 1023.4 1203.1 1016.1 1211.7 1011.5C1217.8 1008.2 1223.3 1006.3 1227.6 1003.5C1230.9 1001.4 1232.8 998.4 1235.6 997.0C1238.1 995.7 1240.4 995.8 1243.5 995.0C1247.9 993.8 1253.8 991.1 1259.4 990.3C1265.4 989.4 1272.7 989.8 1278.4 990.3C1283.1 990.7 1286.6 992.8 1291.0 992.7C1296.0 992.6 1301.6 989.1 1307.0 988.7C1312.3 988.3 1317.7 988.8 1322.9 990.3C1328.3 991.9 1333.9 995.1 1338.7 998.3C1343.4 1001.5 1347.5 1005.3 1351.4 1009.4C1355.4 1013.7 1358.9 1018.2 1362.5 1023.7C1366.9 1030.5 1371.1 1039.9 1375.2 1047.5C1379.0 1054.6 1382.4 1061.1 1386.3 1068.0C1390.3 1075.2 1393.5 1082.2 1399.0 1090.0C1406.2 1100.3 1417.9 1110.3 1427.0 1123.5C1438.3 1139.8 1449.7 1166.9 1460.0 1181.6C1467.0 1191.6 1473.3 1197.3 1480.0 1205.1C1486.7 1212.9 1493.3 1221.0 1500.0 1228.6C1506.6 1236.1 1513.3 1243.1 1520.0 1250.4C1526.7 1257.7 1532.2 1263.6 1540.0 1272.3C1551.1 1284.7 1567.6 1306.5 1580.0 1317.8C1588.8 1325.9 1596.7 1329.9 1605.0 1336.0C1613.3 1342.1 1620.1 1347.4 1630.0 1354.2C1643.7 1363.6 1661.6 1376.9 1680.0 1386.5C1700.3 1397.1 1724.6 1405.5 1747.0 1414.0C1769.2 1422.5 1794.2 1432.5 1814.0 1437.5C1829.1 1441.3 1840.5 1441.9 1855.0 1444.0C1871.2 1446.4 1891.0 1449.3 1906.7 1451.0C1919.8 1452.4 1935.7 1452.7 1943.0 1454.0C1946.3 1454.6 1946.5 1455.4 1950.0 1456.0C1960.1 1457.7 1988.7 1458.2 2010.0 1459.0C2034.2 1459.9 2058.7 1460.6 2087.6 1461.0C2124.2 1461.6 2170.5 1461.4 2212.0 1461.6"/>
<path stroke="#ff7e0a" d="M516.0 63.0C517.5 108.7 519.0 153.4 520.5 200.0C522.1 248.6 523.0 301.0 525.5 349.0C527.9 394.1 531.6 437.3 535.0 480.0C538.3 520.9 542.1 568.6 545.5 600.0C547.7 620.3 549.3 632.3 552.0 650.0C555.1 670.3 559.1 695.4 563.5 715.0C567.2 731.5 571.6 747.4 575.6 760.0C578.5 769.3 580.4 775.8 584.3 783.8C588.6 792.7 594.8 802.7 601.0 810.6C606.8 817.9 613.2 824.9 620.0 829.7C626.0 833.9 633.0 836.5 639.0 838.6C644.0 840.3 648.2 841.7 653.3 842.0C659.2 842.3 666.1 841.3 672.4 839.8C678.8 838.2 685.0 834.6 691.4 832.6C697.7 830.6 704.1 828.9 710.5 827.9C716.8 826.9 723.2 826.7 729.5 826.7C735.9 826.7 742.3 826.7 748.6 827.9C755.0 829.1 761.4 831.1 767.6 833.8C774.1 836.6 781.1 840.8 786.7 844.5C791.4 847.6 794.4 850.7 799.0 854.0C804.6 858.1 811.6 864.0 818.0 867.0C823.6 869.7 829.0 871.7 834.8 872.0C840.9 872.3 847.5 869.9 853.8 868.3C860.2 866.7 867.0 863.3 872.9 862.4C877.9 861.6 882.2 861.6 887.0 862.4C892.4 863.3 898.6 865.5 903.8 868.3C909.0 871.1 914.1 875.2 918.0 879.0C921.4 882.3 923.9 885.8 926.5 889.5C929.2 893.3 931.6 897.2 934.0 901.5C936.6 906.3 938.9 911.7 941.3 917.0C943.8 922.6 946.0 928.3 948.8 934.5C952.0 941.5 955.9 949.3 959.4 956.7C962.9 964.2 966.6 971.8 970.0 979.4C973.3 986.9 976.3 994.5 979.6 1002.0C982.9 1009.6 986.1 1017.5 989.8 1024.7C993.3 1031.5 997.2 1038.1 1000.9 1044.0C1004.2 1049.3 1007.2 1054.2 1011.0 1058.7C1014.8 1063.2 1018.7 1067.5 1023.5 1071.0C1028.5 1074.7 1034.6 1077.8 1040.5 1080.0C1046.2 1082.1 1051.8 1083.9 1058.0 1084.0C1064.9 1084.2 1072.3 1082.9 1080.0 1080.0C1090.0 1076.2 1101.2 1066.9 1112.2 1060.5C1123.5 1053.9 1135.1 1047.1 1146.7 1041.0C1158.1 1035.0 1170.0 1029.9 1181.0 1024.0C1191.6 1018.4 1203.1 1011.2 1211.7 1006.5C1217.8 1003.1 1223.4 1001.1 1227.6 998.0C1230.9 995.5 1232.1 991.8 1235.6 990.0C1239.7 987.8 1246.6 988.0 1251.4 987.0C1255.4 986.2 1258.4 985.0 1262.5 984.5C1267.3 984.0 1273.4 984.0 1278.4 984.5C1282.9 984.9 1286.6 987.0 1291.0 987.0C1296.0 987.0 1301.6 983.8 1307.0 983.5C1312.3 983.2 1317.7 983.7 1322.9 985.0C1328.3 986.3 1333.9 988.8 1338.7 991.5C1343.3 994.0 1347.6 996.8 1351.4 1000.5C1355.6 1004.5 1358.9 1009.7 1362.5 1015.0C1366.4 1020.8 1369.9 1027.2 1373.7 1034.0C1377.9 1041.5 1381.8 1050.4 1386.3 1058.0C1390.6 1065.2 1394.5 1070.6 1400.0 1078.6C1407.8 1090.1 1419.5 1105.2 1429.0 1120.0C1439.5 1136.3 1450.2 1158.8 1460.0 1172.5C1467.0 1182.3 1473.3 1188.2 1480.0 1196.0C1486.7 1203.9 1493.3 1211.9 1500.0 1219.6C1506.6 1227.2 1513.3 1234.5 1520.0 1241.9C1526.7 1249.4 1532.2 1255.4 1540.0 1264.3C1551.1 1277.0 1567.7 1299.3 1580.0 1311.0C1588.8 1319.4 1596.7 1323.8 1605.0 1330.2C1613.3 1336.6 1620.0 1342.5 1630.0 1349.5C1643.6 1359.0 1661.7 1371.4 1680.0 1381.0C1700.3 1391.7 1724.5 1401.1 1747.0 1410.0C1769.2 1418.8 1794.2 1428.8 1814.0 1434.0C1829.1 1438.0 1840.5 1438.7 1855.0 1441.0C1871.2 1443.6 1891.0 1446.6 1906.7 1448.5C1919.8 1450.1 1935.7 1450.4 1943.0 1452.0C1946.3 1452.7 1946.4 1453.8 1950.0 1454.5C1960.1 1456.6 1988.7 1457.1 2010.0 1458.0C2034.2 1459.1 2058.7 1459.8 2087.6 1460.3C2124.2 1460.9 2170.5 1460.8 2212.0 1461.0"/>
<path stroke="#ff2000" d="M517.0 63.0C518.7 108.7 520.4 153.4 522.0 200.0C523.7 248.6 524.4 301.0 527.0 349.0C529.5 394.1 533.4 437.3 537.0 480.0C540.4 520.9 544.3 565.7 548.0 600.0C550.8 625.9 552.6 646.0 556.5 668.0C560.2 689.0 565.6 712.2 570.5 729.0C574.0 741.2 577.6 751.0 581.5 760.0C584.6 767.2 587.0 773.0 591.4 779.0C596.4 785.7 603.8 792.7 610.5 798.0C616.6 802.9 622.9 807.3 629.5 810.0C635.6 812.5 642.2 814.1 648.6 814.3C654.9 814.5 661.4 813.2 667.6 811.2C674.1 809.1 680.3 804.5 686.7 801.7C693.0 799.0 699.3 796.1 705.7 794.5C712.0 792.9 718.4 792.4 724.8 792.1C731.1 791.8 737.5 791.9 743.8 792.9C750.2 793.9 756.7 795.5 762.9 798.0C769.4 800.7 775.9 804.8 781.9 808.8C787.9 812.8 793.2 817.4 799.0 822.0C805.2 826.9 811.1 833.4 818.0 837.4C824.7 841.3 832.4 844.8 839.5 845.7C846.0 846.5 852.5 843.9 858.6 843.3C864.3 842.7 869.5 841.4 875.0 842.0C880.7 842.6 886.5 844.5 892.0 847.0C897.8 849.6 903.5 853.5 908.6 857.6C913.8 861.8 919.0 867.2 922.9 872.0C926.2 876.1 928.5 880.1 931.0 884.5C933.7 889.1 936.0 894.0 938.5 899.0C941.2 904.3 944.0 909.8 946.5 915.5C949.1 921.4 951.4 927.5 954.0 934.0C956.9 941.2 960.4 949.1 963.2 956.7C965.9 964.2 967.6 971.9 970.5 979.4C973.4 987.0 977.3 994.5 980.7 1002.0C984.1 1009.6 987.2 1017.5 990.9 1024.7C994.4 1031.5 998.3 1038.1 1002.0 1044.0C1005.4 1049.3 1008.3 1054.3 1012.2 1058.7C1015.9 1063.0 1019.9 1066.8 1024.7 1070.0C1029.7 1073.3 1035.8 1076.0 1041.7 1078.0C1047.6 1080.0 1053.7 1081.8 1060.0 1082.0C1066.8 1082.3 1073.6 1081.1 1081.2 1079.0C1090.7 1076.3 1101.7 1070.8 1112.2 1065.6C1123.5 1060.0 1135.1 1052.4 1146.7 1046.4C1158.1 1040.5 1170.0 1035.8 1181.0 1030.0C1191.6 1024.3 1203.1 1016.9 1211.7 1012.0C1217.8 1008.5 1223.6 1007.2 1227.6 1003.0C1231.5 998.8 1231.5 990.3 1235.6 987.0C1239.5 983.8 1246.6 984.3 1251.4 983.0C1255.4 981.9 1258.4 980.5 1262.5 980.0C1267.3 979.4 1273.4 979.5 1278.4 980.0C1282.9 980.4 1286.6 982.4 1291.0 982.4C1296.0 982.4 1301.7 979.5 1307.0 979.2C1312.3 978.9 1317.7 979.5 1322.9 980.8C1328.3 982.1 1333.8 984.5 1338.7 987.0C1343.3 989.3 1347.6 991.5 1351.4 995.0C1355.6 998.8 1358.9 1004.1 1362.5 1009.4C1366.4 1015.2 1369.9 1021.7 1373.7 1028.4C1377.9 1035.8 1381.6 1044.4 1386.3 1052.2C1391.1 1060.2 1395.9 1066.7 1402.0 1075.6C1410.2 1087.4 1421.7 1102.6 1431.2 1116.8C1441.0 1131.6 1450.9 1150.0 1460.0 1162.7C1467.0 1172.5 1473.3 1179.2 1480.0 1187.5C1486.7 1195.7 1493.2 1204.3 1500.0 1212.2C1506.6 1219.9 1513.3 1227.1 1520.0 1234.5C1526.7 1241.9 1532.2 1248.0 1540.0 1256.7C1551.1 1269.1 1567.8 1290.2 1580.0 1301.9C1588.9 1310.5 1596.7 1315.4 1605.0 1322.2C1613.3 1329.0 1620.0 1335.3 1630.0 1342.5C1643.6 1352.2 1661.8 1364.0 1680.0 1374.0C1700.4 1385.2 1724.4 1396.5 1747.0 1406.0C1769.1 1415.3 1794.2 1425.3 1814.0 1430.7C1829.1 1434.8 1840.5 1435.6 1855.0 1438.0C1871.2 1440.7 1891.0 1443.9 1906.7 1446.0C1919.8 1447.7 1935.7 1448.1 1943.0 1450.0C1946.3 1450.9 1946.4 1452.1 1950.0 1453.0C1960.1 1455.4 1988.7 1455.9 2010.0 1457.0C2034.2 1458.2 2058.7 1459.0 2087.6 1459.5C2124.2 1460.2 2170.5 1459.8 2212.0 1460.0"/>
</g>
<rect x="1955.5" y="883.5" width="216" height="472" fill="#ffffff" stroke="#7f7f7f" stroke-width="3"/>
<g stroke-width="10" stroke-linecap="butt" fill="none">
<path d="M1957 909.0H2054" stroke="#000000"/><circle cx="2054" cy="909.0" r="5" fill="#000000"/>
<path d="M1957 961.8H2054" stroke="#3a12f2"/><circle cx="2054" cy="961.8" r="5" fill="#3a12f2"/>
<path d="M1957 1014.5H2054" stroke="#1068f4"/><circle cx="2054" cy="1014.5" r="5" fill="#1068f4"/>
<path d="M1957 1067.2H2054" stroke="#00d8f6"/><circle cx="2054" cy="1067.2" r="5" fill="#00d8f6"/>
<path d="M1957 1120.0H2054" stroke="#10f27c"/><circle cx="2054" cy="1120.0" r="5" fill="#10f27c"/>
<path d="M1957 1172.8H2054" stroke="#3cf40c"/><circle cx="2054" cy="1172.8" r="5" fill="#3cf40c"/>
<path d="M1957 1225.5H2054" stroke="#f8e80a"/><circle cx="2054" cy="1225.5" r="5" fill="#f8e80a"/>
<path d="M1957 1278.2H2054" stroke="#ff7e0a"/><circle cx="2054" cy="1278.2" r="5" fill="#ff7e0a"/>
<path d="M1957 1331.0H2054" stroke="#ff2000"/><circle cx="2054" cy="1331.0" r="5" fill="#ff2000"/>
</g>
<g class="sb" font-size="43">
<text x="2064" y="923.0" textLength="84" lengthAdjust="spacingAndGlyphs">0uM</text>
<text x="2064" y="975.8" textLength="84" lengthAdjust="spacingAndGlyphs">4uM</text>
<text x="2064" y="1028.5" textLength="84" lengthAdjust="spacingAndGlyphs">8uM</text>
<text x="2064" y="1081.2" textLength="106" lengthAdjust="spacingAndGlyphs">12uM</text>
<text x="2064" y="1134.0" textLength="106" lengthAdjust="spacingAndGlyphs">16uM</text>
<text x="2064" y="1186.8" textLength="106" lengthAdjust="spacingAndGlyphs">20uM</text>
<text x="2064" y="1239.5" textLength="106" lengthAdjust="spacingAndGlyphs">24uM</text>
<text x="2064" y="1292.2" textLength="106" lengthAdjust="spacingAndGlyphs">28uM</text>
<text x="2064" y="1345.0" textLength="106" lengthAdjust="spacingAndGlyphs">32uM</text>
</g>
<text class="sans" font-size="73" x="1171" y="611" text-anchor="middle" stroke="#000" stroke-width="1.6">a</text>
<text class="sans" font-size="78" x="1172.5" y="884.5" text-anchor="middle" textLength="40.6" lengthAdjust="spacingAndGlyphs" stroke="#000" stroke-width="1.6">h</text>
<rect x="1162" y="617" width="10.8" height="150" fill="#000"/>
<path d="M1148.5 757.5L1186 757.5L1172.5 818L1162.5 818Z" fill="#000"/>
<g fill="#000">
<rect x="1296" y="83" width="8" height="636"/>
<rect x="1296" y="711" width="907" height="8"/>
<rect x="1285" y="154.2" width="12" height="7"/>
<rect x="1285" y="309.0" width="12" height="7"/>
<rect x="1285" y="463.8" width="12" height="7"/>
<rect x="1285" y="618.6" width="12" height="7"/>
<rect x="1292" y="232.1" width="5" height="6"/>
<rect x="1292" y="386.9" width="5" height="6"/>
<rect x="1292" y="541.7" width="5" height="6"/>
<rect x="1292" y="696.5" width="5" height="6"/>
<rect x="1424.0" y="716" width="8" height="11"/>
<rect x="1601.4" y="716" width="8" height="11"/>
<rect x="1778.8" y="716" width="8" height="11"/>
<rect x="1956.2" y="716" width="8" height="11"/>
<rect x="2133.6" y="716" width="8" height="11"/>
<rect x="1335.8" y="716" width="7" height="5.5"/>
<rect x="1513.2" y="716" width="7" height="5.5"/>
<rect x="1690.6" y="716" width="7" height="5.5"/>
<rect x="1868.0" y="716" width="7" height="5.5"/>
<rect x="2045.4" y="716" width="7" height="5.5"/>
</g>
<g class="sb" font-size="31.5">
<text x="1278" y="167.7" text-anchor="end" textLength="29" lengthAdjust="spacingAndGlyphs">-5</text>
<text x="1278" y="322.5" text-anchor="end" textLength="45" lengthAdjust="spacingAndGlyphs">-10</text>
<text x="1278" y="477.3" text-anchor="end" textLength="45" lengthAdjust="spacingAndGlyphs">-15</text>
<text x="1278" y="632.1" text-anchor="end" textLength="45" lengthAdjust="spacingAndGlyphs">-20</text>
<text x="1428.0" y="760" text-anchor="middle" textLength="88" lengthAdjust="spacingAndGlyphs">50,000</text>
<text x="1605.4" y="760" text-anchor="middle" textLength="106" lengthAdjust="spacingAndGlyphs">100,000</text>
<text x="1782.8" y="760" text-anchor="middle" textLength="106" lengthAdjust="spacingAndGlyphs">150,000</text>
<text x="1960.2" y="760" text-anchor="middle" textLength="106" lengthAdjust="spacingAndGlyphs">200,000</text>
<text x="2137.6" y="760" text-anchor="middle" textLength="106" lengthAdjust="spacingAndGlyphs">250,000</text>
</g>
<g fill="#000">
<rect x="1353.6" y="148.0" width="14" height="14"/>
<rect x="1369.0" y="144.0" width="14" height="14"/>
<rect x="1390.7" y="146.8" width="14" height="14"/>
<rect x="1420.6" y="162.6" width="14" height="14"/>
<rect x="1465.0" y="183.0" width="14" height="14"/>
<rect x="1539.0" y="228.8" width="14" height="14"/>
<rect x="1688.0" y="337.0" width="14" height="14"/>
<rect x="2130.7" y="676.4" width="14" height="14"/>
</g>
<line x1="1359.5" y1="127.5" x2="2140" y2="668" stroke="#ff0000" stroke-width="7.5" stroke-linecap="round"/>
<g>
<text class="sans b" font-size="31" x="1389" y="524.5" textLength="321" lengthAdjust="spacingAndGlyphs">y = -0.00008x-1.52023</text>
<text class="sans b" font-size="29" x="1389" y="569" textLength="153" lengthAdjust="spacingAndGlyphs">R=0.98995</text>
<text class="sans b" font-size="36" x="1637" y="825" textLength="216" lengthAdjust="spacingAndGlyphs">1/[CT-DNA]</text>
</g>
<text class="sans" font-size="40" stroke="#000" stroke-width="0.9" transform="translate(1202 494.5) rotate(-90)" textLength="176" lengthAdjust="spacingAndGlyphs">A<tspan dy="13">0</tspan><tspan dy="-13">/(A-A</tspan><tspan dy="13">0</tspan><tspan dy="-13">)</tspan></text>
<text font-size="88" x="1214" y="1886" text-anchor="middle" textLength="109" lengthAdjust="spacingAndGlyphs">(<tspan font-weight="bold">b</tspan>)</text>
</svg></body></html>
